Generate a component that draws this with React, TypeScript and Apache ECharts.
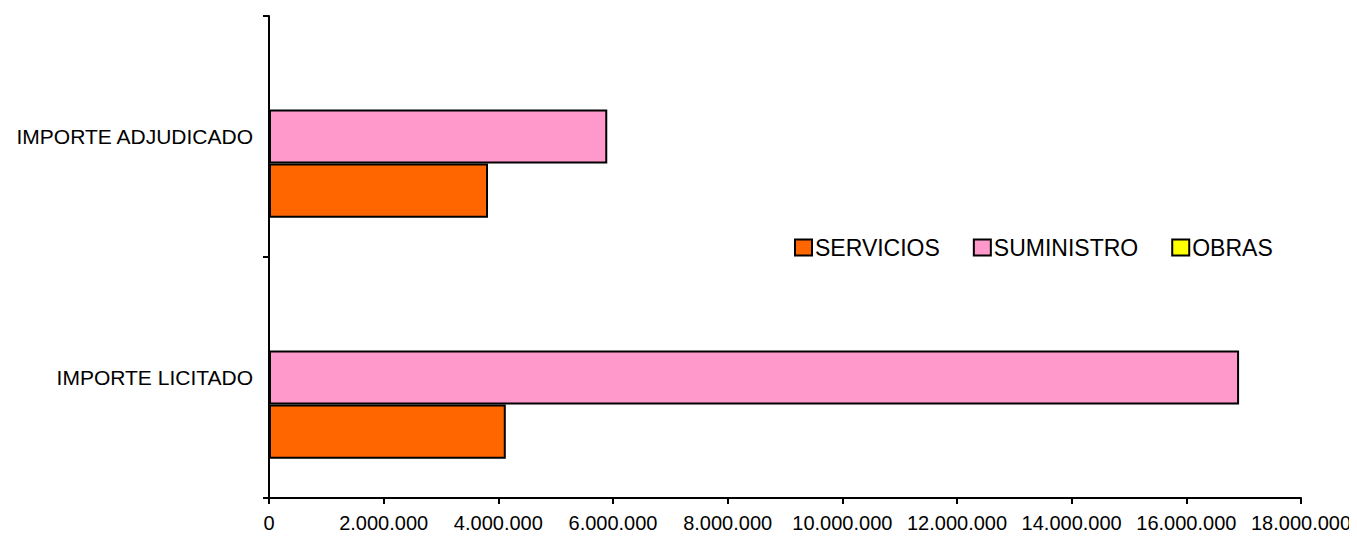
import React, { useEffect, useRef } from "react";
import * as echarts from "echarts";

const categories = ["IMPORTE LICITADO", "IMPORTE ADJUDICADO"];
const seriesNames = ["SERVICIOS", "SUMINISTRO", "OBRAS"];
const servicios = [4130000, 3820000];
const suministro = [16920000, 5900000];
const obras = [0, 0];
const colors = ["#FF6600", "#FF99CC", "#FFFF00"];

const fmt = (v: number) =>
  String(Math.round(v)).replace(/\B(?=(\d{3})+(?!\d))/g, ".");

export default function App() {
  const ref = useRef<HTMLDivElement>(null);
  useEffect(() => {
    if (!ref.current) return;
    const chart = echarts.init(ref.current, null, { renderer: "svg" });
    const values = [servicios, suministro, obras];
    const font = "Liberation Sans, Arial, sans-serif";
    // ECharts places the first series on top; reverse so SERVICIOS is at the bottom
    const order = [2, 1, 0];
    chart.setOption({
      animation: false,
      textStyle: { fontFamily: font },
      grid: {
        left: 261,
        right: 56,
        top: 8,
        bottom: 40,
        containLabel: false,
        outerBoundsMode: "none",
      },
      legend: {
        data: seriesNames,
        left: 781,
        top: 223,
        itemWidth: 17,
        itemHeight: 16,
        itemGap: 33,
        icon: "rect",
        textStyle: { fontSize: 23, color: "#000", fontFamily: font, padding: [0, 0, 0, -2] },
      },
      xAxis: {
        type: "value",
        min: 0,
        max: 18000000,
        interval: 2000000,
        axisLine: { show: true, lineStyle: { color: "#000", width: 2 } },
        axisTick: { show: true, length: 6, lineStyle: { color: "#000", width: 2 } },
        splitLine: { show: false },
        axisLabel: { color: "#000", fontSize: 20, margin: 15, formatter: (v: number) => fmt(v) },
      },
      yAxis: {
        type: "category",
        data: categories,
        axisLine: { show: true, lineStyle: { color: "#000", width: 2 } },
        axisTick: { show: true, length: 6, lineStyle: { color: "#000", width: 2 } },
        axisLabel: { color: "#000", fontSize: 21, margin: 16 },
      },
      series: order.map((i) => ({
        name: seriesNames[i],
        type: "bar",
        data: values[i],
        barGap: "0%",
        barCategoryGap: "32.5%",
        itemStyle: { color: colors[i], borderColor: "#000", borderWidth: 2 },
      })),
    });
    return () => chart.dispose();
  }, []);
  return <div ref={ref} style={{ width: 1349, height: 530 }} />;
}
